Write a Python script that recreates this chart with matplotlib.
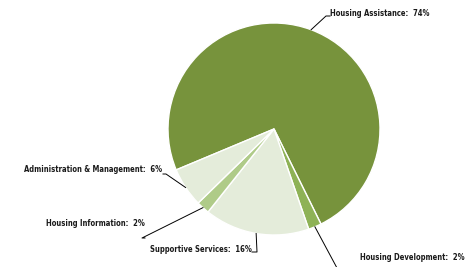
import numpy as np
import matplotlib.pyplot as plt
from matplotlib import font_manager

# Budget shares (percent), clockwise from the top-left edge
categories = ['Housing Assistance', 'Housing Development', 'Supportive Services',
              'Housing Information', 'Administration & Management']
shares = [74, 2, 16, 2, 6]
colors = ['#77933C', '#8EB256', '#E4ECDA', '#AFCB88', '#E4ECDA']

# label text anchor (pixels, y down), alignment, elbow point of the leader
label_pos = [(330, 14, 'left'), (360, 258, 'left'), (252, 250, 'right'),
             (145, 224, 'right'), (162, 170, 'right')]
elbows = [(326, 16), (337, 268), (257, 252), (142, 238), (166, 174)]
ends = [(330, 16), (340, 268), (252, 252), (145, 238), (163, 174)]

W, H = 472, 267
fig = plt.figure(figsize=(W / 100, H / 100), dpi=100)
ax = fig.add_axes([0, 0, 1, 1])

cx, cy, r = 274, H - 129, 106
wedges, _ = ax.pie(shares, colors=colors, startangle=202.7, counterclock=False,
                   center=(cx, cy), radius=r, frame=True,
                   wedgeprops=dict(edgecolor='white', linewidth=1))
ax.set_xlim(0, W)
ax.set_ylim(0, H)
ax.set_aspect('equal')
ax.axis('off')


def weight_of(f):
    w = f.weight
    return w if isinstance(w, int) else font_manager.weight_dict.get(w, 400)


# look for a narrow bold face, otherwise Liberation Sans
fam, stretch = 'Liberation Sans', 'normal'
best = None
for f in font_manager.fontManager.ttflist:
    narrow = (f.stretch in ('condensed', 'semi-condensed') or 'Narrow' in f.name
              or 'Condensed' in f.name)
    if narrow and weight_of(f) >= 600:
        rank = 0 if 'Liberation' in f.name else (1 if 'DejaVu' in f.name else 2)
        if best is None or rank < best[0]:
            best = (rank, f.name, f.stretch)
if best:
    fam, stretch = best[1], best[2]

texts = []
for w, cat, val, (tx, ty, ha), (ex, ey), (fx, fy) in zip(
        wedges, categories, shares, label_pos, elbows, ends):
    mid = np.deg2rad((w.theta1 + w.theta2) / 2)
    px, py = cx + r * np.cos(mid), cy + r * np.sin(mid)
    ax.plot([px, ex, fx], [py, H - ey, H - fy], color='black', lw=0.7,
            clip_on=False)
    t = ax.text(tx, H - ty, f'{cat}:  {val}%', ha=ha, va='center',
                family=[fam, 'DejaVu Sans'], fontstretch=stretch,
                fontweight='bold', fontsize=8, color='#1a1a1a')
    texts.append(t)

# scale the labels so the longest one is as wide as in the reference
fig.canvas.draw()
wd = texts[-1].get_window_extent().width
size = min(8 * 139 / wd, 8.0)
for t in texts:
    t.set_fontsize(size)

fig.savefig('out.png', dpi=100)
